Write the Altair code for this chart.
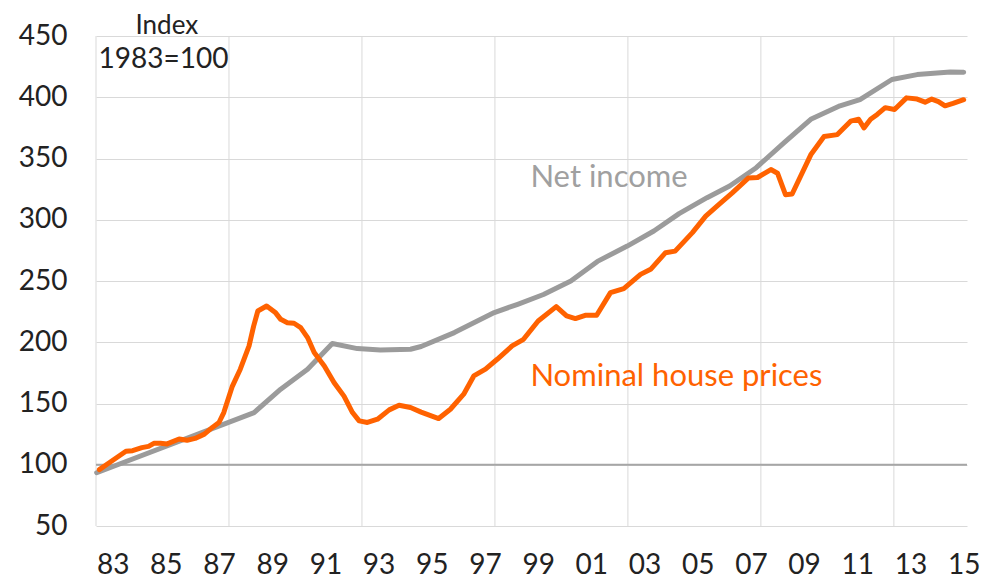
import altair as alt
import pandas as pd

# ---- data (decimal years, index 1983=100) ----
house_t = [1982.5, 1982.9, 1983.5, 1983.75, 1984.1, 1984.35, 1984.55, 1984.8, 1985.05, 1985.5,
           1985.8, 1986.1, 1986.45, 1986.75, 1987.0, 1987.18, 1987.5, 1987.8, 1988.13, 1988.3,
           1988.46, 1988.79, 1989.13, 1989.32, 1989.57, 1989.82, 1990.07, 1990.33, 1990.58, 1990.96,
           1991.33, 1991.7, 1992.02, 1992.27, 1992.58, 1992.96, 1993.4, 1993.77, 1994.2, 1994.6,
           1995.26, 1995.7, 1996.2, 1996.58, 1997.02, 1997.46, 1998.02, 1998.45, 1999.0, 1999.68,
           2000.07, 2000.4, 2000.77, 2001.2, 2001.72, 2002.22, 2002.85, 2003.23, 2003.79, 2004.15,
           2004.8, 2005.3, 2005.8, 2006.3, 2006.9, 2007.25, 2007.75, 2008.0, 2008.3, 2008.55,
           2009.25, 2009.75, 2010.25, 2010.75, 2011.05, 2011.25, 2011.5, 2011.75, 2012.05, 2012.4,
           2012.85, 2013.25, 2013.55, 2013.8, 2014.05, 2014.3, 2014.6, 2015.0]
house_v = [96, 102, 111, 111.5, 114, 115, 117.5, 117.5, 117, 121,
           120, 121.5, 125, 130.5, 134.5, 142.6, 164, 178, 197, 213,
           225.5, 229.6, 224, 218.7, 216, 215.5, 212, 203.8, 191.6, 180.7,
           167, 156, 142.6, 135.8, 134.5, 137.2, 144.8, 148.6, 146.7, 143,
           137.7, 145.3, 157.6, 172.5, 178, 186.1, 197, 202.4, 217.4, 229.1,
           221.5, 219.3, 222, 222, 240.5, 243.8, 255.4, 259.5, 273.1, 274.4,
           289.5, 303, 312.5, 322, 334, 334.5, 341, 338, 320.5, 321,
           353, 368, 369.5, 380.5, 382, 375, 382, 386, 391.5, 390,
           399.5, 398.5, 396, 398.5, 396.5, 393, 395, 398]

income_t = [1982.4, 1988.32, 1989.32, 1990.33, 1991.26, 1992.2, 1993.07, 1994.2, 1994.6, 1995.85,
            1997.35, 1998.23, 1999.2, 2000.23, 2001.23, 2002.35, 2003.35, 2004.3, 2005.35, 2006.2,
            2007.2, 2008.25, 2009.25, 2010.35, 2011.1, 2012.3, 2013.25, 2014.5, 2015.0]
income_v = [93.5, 142.6, 161.7, 178, 199, 194.8, 193.7, 194.3, 196.5, 207.9,
            224.2, 231, 239, 250, 266, 278.5, 290.8, 305, 318, 327.5,
            342.5, 363, 382, 393, 398, 414.5, 418.5, 420.7, 420.5]

year_ticks = list(range(1983, 2016, 2))
grid_years = [1982.375, 1987.375, 1992.375, 1997.375, 2002.375, 2007.375, 2012.375]
y_ticks = [50, 100, 150, 200, 250, 300, 350, 400, 450]
base_value = [100]

label_text = ["Index", "1983=100", "Net income", "Nominal house prices"]
label_t = [1983.86, 1982.47, 1998.71, 1998.71]
label_v = [451.5, 424.2, 327.0, 164.2]
label_size = [26, 28, 31, 31]
label_color = ["#222222", "#222222", "#a0a0a0", "#ff6200"]

FONT = "Lato"
ORANGE = "#ff6200"
GREY = "#9b9b9b"

x_scale = alt.Scale(domain=[1982.375, 2015.125], nice=False, zero=False)
y_scale = alt.Scale(domain=[50, 450], nice=False, zero=False)

x_axis = alt.Axis(values=year_ticks, labelExpr="substring(toString(datum.value), 2, 4)",
                  grid=False, ticks=False, domain=False, labelFont=FONT, labelFontSize=28,
                  labelColor="#222222", labelPadding=25, labelFlush=False, title=None)
y_axis = alt.Axis(values=y_ticks, grid=True, gridColor="#d9d9d9", gridWidth=1, ticks=False,
                  domain=False, labelFont=FONT, labelFontSize=28, labelColor="#222222",
                  labelPadding=29, title=None)

X = lambda: alt.X("t:Q", scale=x_scale, axis=x_axis)
Y = lambda: alt.Y("v:Q", scale=y_scale, axis=y_axis)

df_house = pd.DataFrame({"t": house_t, "v": house_v})
df_income = pd.DataFrame({"t": income_t, "v": income_v})
df_grid = pd.DataFrame({"t": grid_years})
df_base = pd.DataFrame({"v": base_value})
df_lab = pd.DataFrame({"t": label_t, "v": label_v, "text": label_text,
                       "c": label_color, "s": label_size})

vgrid = alt.Chart(df_grid).mark_rule(color="#d9d9d9", strokeWidth=1).encode(x=X())
base = alt.Chart(df_base).mark_rule(color="#a6a6a6", strokeWidth=2).encode(y=Y())
income = alt.Chart(df_income).mark_line(color=GREY, strokeWidth=5, strokeJoin="round",
                                        strokeCap="round").encode(x=X(), y=Y())
house = alt.Chart(df_house).mark_line(color=ORANGE, strokeWidth=5, strokeJoin="round",
                                      strokeCap="round").encode(x=X(), y=Y())
labels = alt.Chart(df_lab).mark_text(align="left", baseline="alphabetic", font=FONT).encode(
    x=X(), y=Y(), text="text:N",
    color=alt.Color("c:N", scale=None),
    size=alt.Size("s:Q", scale=None))

chart = alt.layer(vgrid, base, income, house, labels).properties(
    width=871, height=490,
    autosize=alt.AutoSizeParams(type="none"),
    padding={"left": 88, "top": 28, "right": 14, "bottom": 54},
    background="white",
).configure_view(stroke=None)

chart.save("out.html", embed_options={"renderer": "svg", "actions": False})
